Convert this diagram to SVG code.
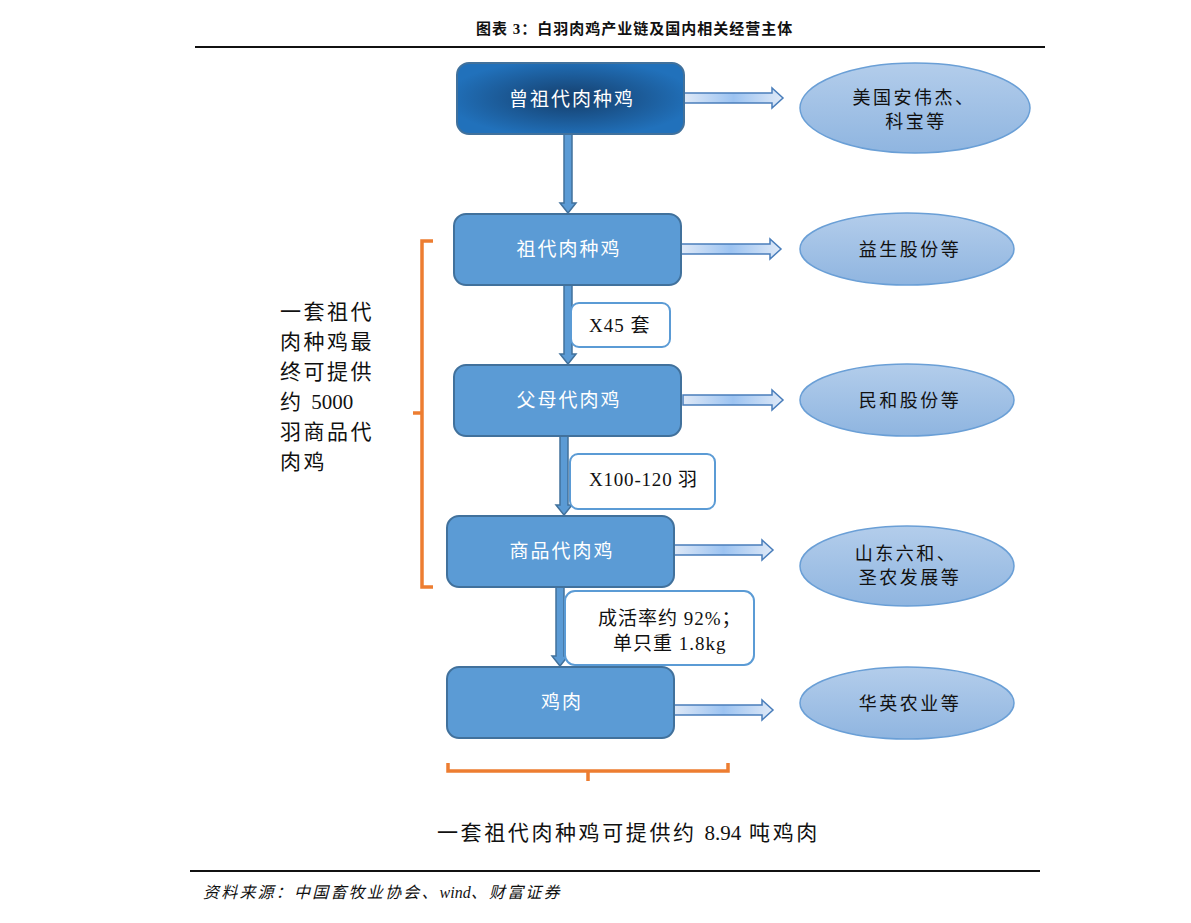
<svg xmlns="http://www.w3.org/2000/svg" width="1191" height="923" viewBox="0 0 1191 923">
<defs>
<style>
.t{font-family:"Liberation Serif","Noto Sans CJK SC",serif;}
.bx{fill:#5b9bd5;stroke:#41719c;stroke-width:2;}
.bt{font-family:"Liberation Serif","Noto Sans CJK SC",serif;font-size:19px;fill:#fff;text-anchor:middle;letter-spacing:2px;}
.el{fill:url(#eg);stroke:#6a9fd6;stroke-width:1.5;}
.et{font-family:"Liberation Serif","Noto Sans CJK SC",serif;font-size:18px;fill:#111;text-anchor:middle;letter-spacing:2.5px;}
.lb{fill:#fff;stroke:#5b9bd5;stroke-width:2;}
.lt{font-family:"Liberation Serif","Noto Sans CJK SC",serif;font-size:19px;fill:#111;}
.ra{fill:url(#ag);stroke:#4a7ebb;stroke-width:1.5;}
.va{fill:#5b9bd5;stroke:#41719c;stroke-width:1.5;}
.br{fill:none;stroke:#ed7d31;stroke-width:3.5;}
.n0{letter-spacing:0;}
</style>
<radialGradient id="dg" cx="0.5" cy="0.5" r="0.55">
<stop offset="0" stop-color="#153e6b"/>
<stop offset="1" stop-color="#2171bb"/>
</radialGradient>
<linearGradient id="eg" x1="0" y1="0" x2="0" y2="1">
<stop offset="0" stop-color="#b3cdeb"/>
<stop offset="1" stop-color="#8fb5e0"/>
</linearGradient>
<linearGradient id="ag" x1="0" y1="0" x2="1" y2="0">
<stop offset="0" stop-color="#dfe9f7"/>
<stop offset="0.5" stop-color="#9cc3f1"/>
<stop offset="1" stop-color="#dfe9f7"/>
</linearGradient>
</defs>
<rect width="1191" height="923" fill="#fff"/>
<text class="t" x="476" y="34" font-size="15" font-weight="bold" fill="#111" letter-spacing="1">图表 3：白羽肉鸡产业链及国内相关经营主体</text>
<line x1="195" y1="47" x2="1045" y2="47" stroke="#111" stroke-width="2"/>

<g id="connectors">
<path class="va" d="M564 134 L572 134 L572 203 L576 203 L568 213 L560 203 L564 203 Z"/>
<path class="va" d="M564 285 L572 285 L572 354 L576 354 L568 364 L560 354 L564 354 Z"/>
<path class="va" d="M560 436 L568 436 L568 505 L572 505 L564 515 L556 505 L560 505 Z"/>
<path class="va" d="M556 587 L564 587 L564 656 L568 656 L560 666 L552 656 L556 656 Z"/>
<path class="ra" d="M684 93 L772 93 L772 88 L783 98 L772 108 L772 103 L684 103 Z"/>
<path class="ra" d="M681 244 L770 244 L770 239 L781 249 L770 259 L770 254 L681 254 Z"/>
<path class="ra" d="M683 395 L772 395 L772 390 L783 400 L772 410 L772 405 L683 405 Z"/>
<path class="ra" d="M674 545 L762 545 L762 540 L773 550 L762 560 L762 555 L674 555 Z"/>
<path class="ra" d="M674 705 L762 705 L762 700 L773 710 L762 720 L762 715 L674 715 Z"/>
</g>

<g id="n1"><rect x="457" y="63" width="227" height="71" rx="12" fill="url(#dg)" stroke="#41719c" stroke-width="2"/><text class="bt" x="572" y="106">曾祖代肉种鸡</text></g>
<g id="n2"><rect class="bx" x="454" y="214" width="227" height="71" rx="12"/><text class="bt" x="569" y="256">祖代肉种鸡</text></g>
<g id="n3"><rect class="bx" x="454" y="365" width="227" height="71" rx="12"/><text class="bt" x="569" y="407">父母代肉鸡</text></g>
<g id="n4"><rect class="bx" x="447" y="516" width="227" height="71" rx="12"/><text class="bt" x="562" y="558">商品代肉鸡</text></g>
<g id="n5"><rect class="bx" x="447" y="667" width="227" height="71" rx="12"/><text class="bt" x="562" y="709">鸡肉</text></g>

<g id="l1"><rect class="lb" x="571" y="303" width="99" height="44" rx="8"/><text class="lt" x="589" y="332" letter-spacing="1">X45 套</text></g>
<g id="l2"><rect class="lb" x="570" y="454" width="145" height="55" rx="8"/><text class="lt" x="589" y="486" letter-spacing="0.8">X100-120 羽</text></g>
<g id="l3"><rect class="lb" x="565" y="591" width="189" height="74" rx="10"/><text class="lt" x="598" y="625" font-size="15" letter-spacing="1">成活率约 92%；</text><text class="lt" x="613" y="650" font-size="15" letter-spacing="1">单只重 1.8kg</text></g>

<g id="e1"><ellipse class="el" cx="915" cy="108" rx="115" ry="45"/><text class="et" x="914" y="104" font-size="16" letter-spacing="2">美国安伟杰、</text><text class="et" x="916" y="128" font-size="16" letter-spacing="2">科宝等</text></g>
<g id="e2"><ellipse class="el" cx="907" cy="249" rx="107" ry="36"/><text class="et" x="910" y="256">益生股份等</text></g>
<g id="e3"><ellipse class="el" cx="907" cy="400" rx="107" ry="36"/><text class="et" x="910" y="407">民和股份等</text></g>
<g id="e4"><ellipse class="el" cx="907" cy="566" rx="107" ry="40"/><text class="et" x="906" y="560">山东六和、</text><text class="et" x="910" y="584">圣农发展等</text></g>
<g id="e5"><ellipse class="el" cx="907" cy="703" rx="107" ry="36"/><text class="et" x="910" y="710">华英农业等</text></g>

<g id="brace-left"><path class="br" d="M433 241 L422 241 L422 587 L433 587 M422 413 L413 413"/></g>
<g id="brace-bottom"><path class="br" d="M448 763 L448 771 L728 771 L728 763 M588 771 L588 781"/></g>

<g id="note-left" class="t" font-size="21" fill="#111" letter-spacing="2.5">
<text x="280" y="319">一套祖代</text>
<text x="280" y="349">肉种鸡最</text>
<text x="280" y="379">终可提供</text>
<text x="280" y="409">约 <tspan class="n0">5000</tspan></text>
<text x="280" y="439">羽商品代</text>
<text x="280" y="469">肉鸡</text>
</g>
<text class="t" x="437" y="840" font-size="21" fill="#111" letter-spacing="2.6">一套祖代肉种鸡可提供约 <tspan class="n0">8.94</tspan> 吨鸡肉</text>
<line x1="190" y1="871" x2="1040" y2="871" stroke="#111" stroke-width="2"/>
<text class="t" x="203" y="898" font-size="16" font-style="italic" fill="#111" letter-spacing="2.2">资料来源：中国畜牧业协会、<tspan class="n0">wind</tspan>、财富证券</text>
</svg>
